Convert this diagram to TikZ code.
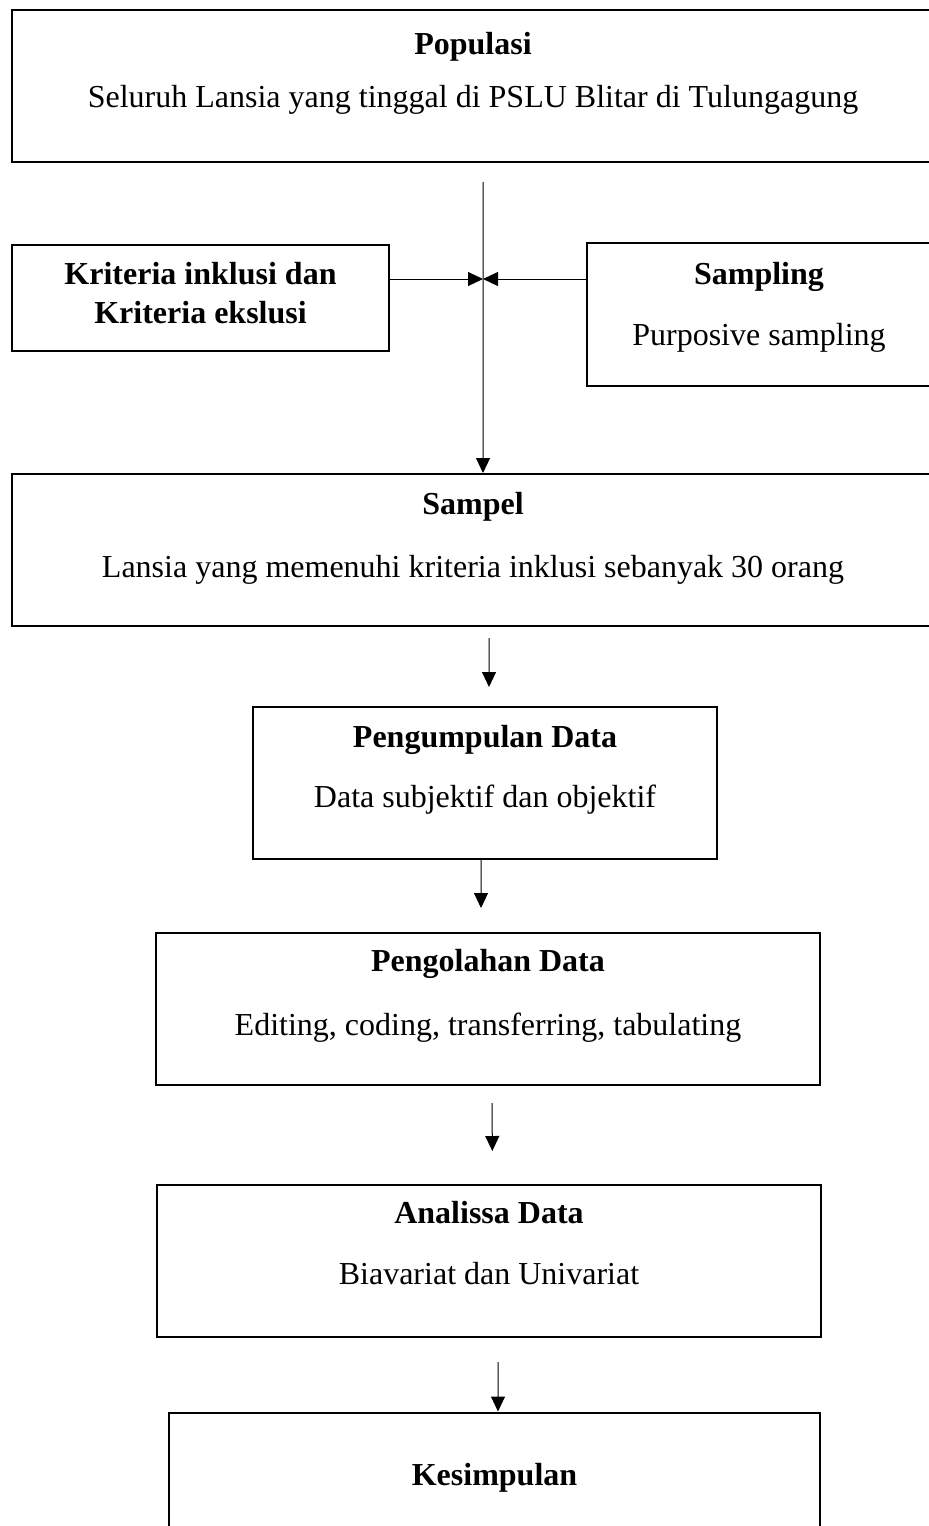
\documentclass[tikz,border=0pt]{standalone}
\usepackage{fontspec}
\setmainfont{Liberation Serif}
\usetikzlibrary{arrows.meta}

\begin{document}
\begin{tikzpicture}[x=0.4pt, y=-0.4pt, font=\fontsize{12.8}{16}\selectfont, box node/.style={draw, line width=0.8pt, inner sep=0pt, minimum height=60.8pt}, title node/.style={font=\fontsize{12.8}{16}\selectfont\bfseries, inner sep=0pt, text height=8.6pt, text depth=2.8pt}, text node/.style={inner sep=0pt, text height=8.6pt, text depth=2.8pt}, flow/.style={-{Triangle[length=6pt, width=5.6pt]}, line width=0.4pt}] %coordinates are pixels of the scanned chart, y going down
\useasboundingbox (0,0) rectangle (928,1526);
\node[box node, minimum width=368.8pt](pop) at (473,86){};
\node[title node](popT) at (473,47){Populasi};
\node[text node](popB) at (473,100){Seluruh Lansia yang tinggal di PSLU Blitar di Tulungagung};
\node[box node, minimum width=150.8pt, minimum height=42.4pt](krit) at (200.5,298){};
\node[title node](kritA) at (200.5,277){Kriteria inklusi dan};
\node[title node](kritB) at (200.5,316){Kriteria ekslusi};
\node[box node, minimum width=137.6pt, minimum height=57.2pt](samp) at (759,314.5){};
\node[title node](sampT) at (759,277){Sampling};
\node[text node](sampB) at (759,338){Purposive sampling};
\node[box node, minimum width=368.8pt](sampel) at (473,550){};
\node[title node](sampelT) at (473,507){Sampel};
\node[text node](sampelB) at (473,570){Lansia yang memenuhi kriteria inklusi sebanyak 30 orang};
\node[box node, minimum width=185.6pt](kumpul) at (485,783){};
\node[title node](kumpulT) at (485,740){Pengumpulan Data};
\node[text node](kumpulB) at (485,800){Data subjektif dan objektif};
\node[box node, minimum width=265.6pt](olah) at (488,1009){};
\node[title node](olahT) at (488,964){Pengolahan Data};
\node[text node](olahB) at (488,1028){Editing, coding, transferring, tabulating};
\node[box node, minimum width=265.6pt](analisa) at (489,1261){};
\node[title node](analisaT) at (489,1216){Analissa Data};
\node[text node](analisaB) at (489,1277){Biavariat dan Univariat};
\node[box node, minimum width=260.4pt](simpul) at (494.5,1488.5){};
\node[title node](simpulT) at (494.5,1478){Kesimpulan};

\coordinate (top) at (483,182);
\coordinate (join) at (483,279);
\draw[flow] (top) -- ([xshift=4pt]sampel.north);
\draw[flow] (krit.east |- join) -- (join);
\draw[flow] (samp.west |- join) -- (join);
\draw[flow, shorten <=4.4pt, shorten >=7.6pt] ([xshift=6.4pt]sampel.south) -- ([xshift=1.6pt]kumpul.north);
\draw[flow, shorten >=9.6pt] ([xshift=-1.6pt]kumpul.south) -- ([xshift=-2.8pt]olah.north);
\draw[flow, shorten <=6.8pt, shorten >=13.2pt] ([xshift=1.6pt]olah.south) -- ([xshift=1.4pt]analisa.north);
\draw[flow, shorten <=9.6pt] ([xshift=3.6pt]analisa.south) -- ([xshift=1.4pt]simpul.north);
\end{tikzpicture}
\end{document}
